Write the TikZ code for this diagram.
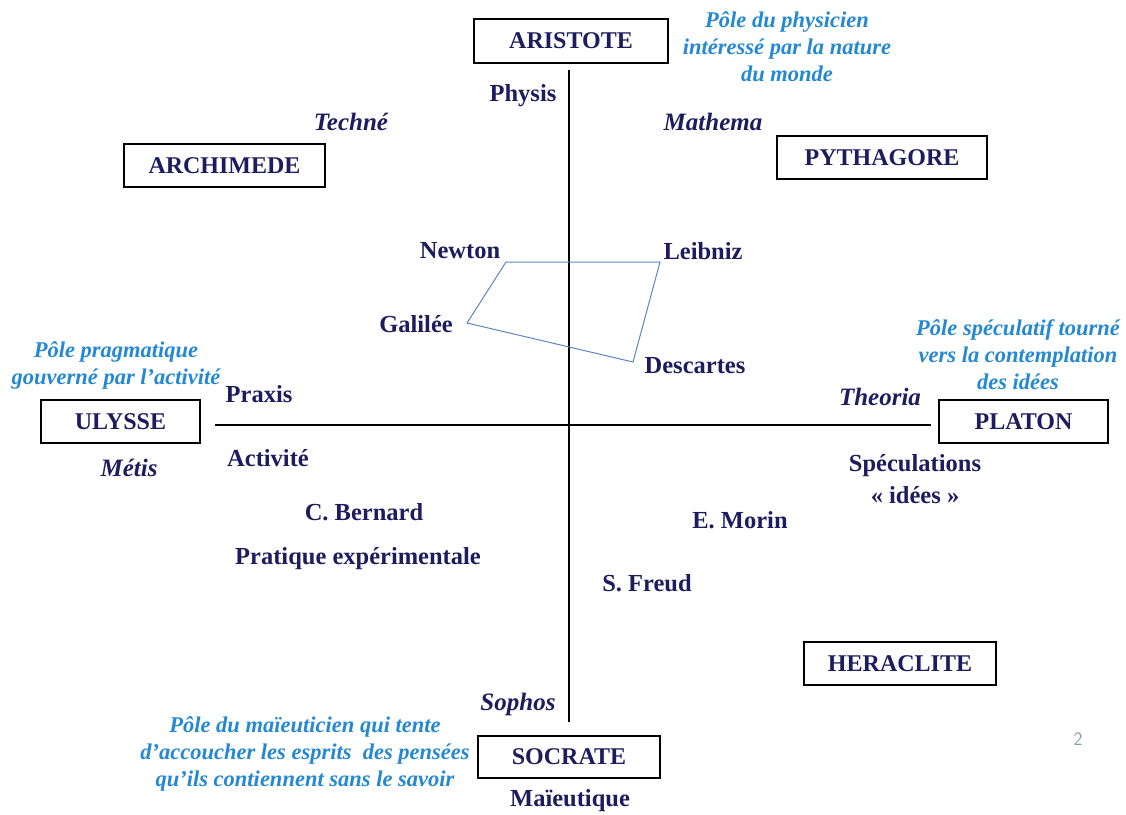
\documentclass[tikz,border=0pt]{standalone}
\usepackage{fontspec}
\setmainfont{Liberation Serif}
\definecolor{navy}{HTML}{1C1C5E}
\definecolor{noteblue}{HTML}{2488D2}
\definecolor{quadblue}{HTML}{5B86C0}
\definecolor{pagegray}{HTML}{8A9AB0}
\tikzset{
  pole/.style={draw=black, line width=2.2pt, inner sep=0pt, text=navy,
    font=\fontsize{24}{28}\selectfont\bfseries},
  lab/.style={text=navy, inner sep=0pt, font=\fontsize{24.5}{28}\selectfont\bfseries},
  ilab/.style={text=navy, inner sep=0pt, font=\fontsize{25}{28}\selectfont\bfseries\itshape},
  note/.style={text=noteblue, inner sep=0pt, align=center,
    font=\fontsize{22.5}{27}\selectfont\bfseries\itshape},
  axis/.style={line width=1.4pt, black},
  quad/.style={line width=1pt, quadblue}
}
\begin{document}
\begin{tikzpicture}[x=1pt,y=-1pt]
\useasboundingbox (0,0) rectangle (1126,814);
% pole boxes
\node[pole, minimum width=194, minimum height=44] (aristote) at (571,41) {ARISTOTE};
\node[pole, minimum width=201, minimum height=43] (archimede) at (224.5,165.5) {ARCHIMEDE};
\node[pole, minimum width=210, minimum height=43] (pythagore) at (882,157.5) {PYTHAGORE};
\node[pole, minimum width=159, minimum height=43] (ulysse) at (120.5,421.5) {ULYSSE};
\node[pole, minimum width=169, minimum height=43] (platon) at (1023.5,421.5) {PLATON};
\node[pole, minimum width=192, minimum height=43] (heraclite) at (900,663.5) {HERACLITE};
\node[pole, minimum width=182, minimum height=42] (socrate) at (569,757) {SOCRATE};
% axes
\coordinate (vtop) at (569,70);
\coordinate (vbot) at (569,722);
\coordinate (hleft) at (215,425);
\coordinate (hright) at (931,425);
\draw[axis] (vtop) -- (vbot);
\draw[axis] (hleft) -- (hright);
% quadrilateral
\coordinate (qn) at (506,262);
\coordinate (ql) at (660,262);
\coordinate (qd) at (633,362);
\coordinate (qg) at (467,323);
\draw[quad] (qn) -- (ql) -- (qd) -- (qg) -- cycle;
% labels
\node[lab] (physis) at (523,96) {Physis};
\node[ilab] (techne) at (351,122) {Techné};
\node[ilab] (mathema) at (713,122) {Mathema};
\node[lab] (newton) at (460,251) {Newton};
\node[lab] (leibniz) at (703,251) {Leibniz};
\node[lab] (galilee) at (416,324) {Galilée};
\node[lab] (descartes) at (695,366) {Descartes};
\node[lab] (praxis) at (259,394) {Praxis};
\node[lab] (activite) at (268,458) {Activité};
\node[ilab] (metis) at (129,468) {Métis};
\node[lab] (bernard) at (364,512) {C. Bernard};
\node[lab] (pratique) at (358,559) {Pratique expérimentale};
\node[ilab] (theoria) at (880,397) {Theoria};
\node[lab] (specul) at (915,466) {Spéculations};
\node[lab] (idees) at (915,495) {« idées »};
\node[lab] (morin) at (740,520) {E. Morin};
\node[lab] (freud) at (647,583) {S. Freud};
\node[ilab] (sophos) at (518,704) {Sophos};
\node[lab] (maieut) at (570,801) {Maïeutique};
% notes
\node[note] (n1) at (787,47) {Pôle du physicien\\intéressé par la nature\\du monde};
\node[note] (n2) at (116,365) {Pôle pragmatique\\gouverné par l’activité};
\node[note] (n3) at (1018,355) {Pôle spéculatif tourné\\vers la contemplation\\des idées};
\node[note] (n4) at (305,754) {Pôle du maïeuticien qui tente\\d’accoucher les esprits~ des pensées\\qu’ils contiennent sans le savoir};
\node[text=pagegray, inner sep=0pt, font=\fontsize{19}{20}\selectfont\sffamily] (page) at (1078,739) {2};
\end{tikzpicture}
\end{document}
